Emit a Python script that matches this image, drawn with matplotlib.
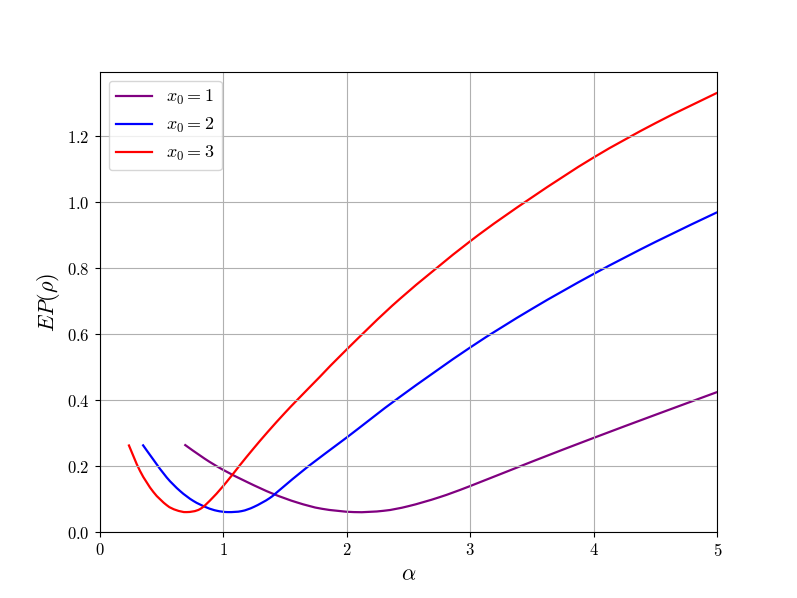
import matplotlib
matplotlib.use("Agg")
import matplotlib.pyplot as plt
from matplotlib.path import Path
from matplotlib.patches import PathPatch
from matplotlib.lines import Line2D

# Fuente tipo LaTeX (Computer Modern)
plt.rcParams["font.family"] = "serif"
plt.rcParams["font.serif"] = ["cmr10", "DejaVu Serif"]
plt.rcParams["mathtext.fontset"] = "cm"
plt.rcParams["axes.formatter.use_mathtext"] = True

# ---- Datos ----
# x0 = 1
alpha_1 = [0.686, 0.85, 1.0, 1.2, 1.4, 1.6, 1.8, 2.06, 2.3, 2.5, 2.75, 3.0,
           3.5, 4.0, 4.5, 5.0]
ep_1 = [0.266, 0.223, 0.189, 0.151, 0.117, 0.090, 0.071, 0.061, 0.065, 0.079,
        0.106, 0.140, 0.214, 0.286, 0.356, 0.425]

# x0 = 2
alpha_2 = [0.347, 0.435, 0.543, 0.651, 0.758, 0.866, 0.95, 1.04, 1.15, 1.25,
           1.375, 1.47, 1.69, 2.0, 2.43, 3.0, 3.5, 4.0, 4.5, 5.0]
ep_2 = [0.266, 0.220, 0.166, 0.125, 0.095, 0.075, 0.065, 0.061, 0.064, 0.077,
        0.103, 0.132, 0.200, 0.287, 0.410, 0.560, 0.677, 0.783, 0.880, 0.970]

# x0 = 3
alpha_3 = [0.234, 0.328, 0.435, 0.543, 0.62, 0.705, 0.812, 0.919, 1.027, 1.135,
           1.242, 1.363, 1.498, 1.605, 1.78, 2.0, 2.43, 3.0, 3.5, 4.0, 4.5, 5.0]
ep_3 = [0.266, 0.185, 0.122, 0.082, 0.067, 0.061, 0.070, 0.106, 0.152, 0.203,
        0.252, 0.305, 0.361, 0.403, 0.470, 0.554, 0.707, 0.882, 1.015, 1.136,
        1.240, 1.332]

series = [
    (alpha_1, ep_1, "purple", r"$x_0 = 1$"),
    (alpha_2, ep_2, "blue", r"$x_0 = 2$"),
    (alpha_3, ep_3, "red", r"$x_0 = 3$"),
]


# Camino suave (Catmull-Rom como curvas Bezier) que pasa por los puntos leidos
def camino_suave(xs, ys):
    pts = list(zip(xs, ys))
    n = len(pts)
    vertices = [pts[0]]
    codigos = [Path.MOVETO]
    for i in range(n - 1):
        p0 = pts[max(i - 1, 0)]
        p1 = pts[i]
        p2 = pts[i + 1]
        p3 = pts[min(i + 2, n - 1)]
        c1 = (p1[0] + (p2[0] - p0[0]) / 6, p1[1] + (p2[1] - p0[1]) / 6)
        c2 = (p2[0] - (p3[0] - p1[0]) / 6, p2[1] - (p3[1] - p1[1]) / 6)
        vertices.extend([c1, c2, p2])
        codigos.extend([Path.CURVE4] * 3)
    return Path(vertices, codigos)


fig, ax = plt.subplots(figsize=(7.97, 5.98), dpi=100)

manejadores = []
for xs, ys, color, label in series:
    patch = PathPatch(camino_suave(xs, ys), facecolor="none", edgecolor=color,
                      linewidth=1.6, transform=ax.transData)
    ax.add_patch(patch)
    manejadores.append(Line2D([], [], color=color, linewidth=1.6, label=label))

ax.set_xlim(0, 5)
ax.set_ylim(0, 1.3956)
ax.set_xlabel(r"$\alpha$", fontsize=16)
ax.set_ylabel(r"$EP(\rho)$", fontsize=16)
ax.tick_params(labelsize=12)
ax.grid(True)
ax.legend(handles=manejadores, loc="upper left", fontsize=13)

fig.savefig("out.png", dpi=100)
